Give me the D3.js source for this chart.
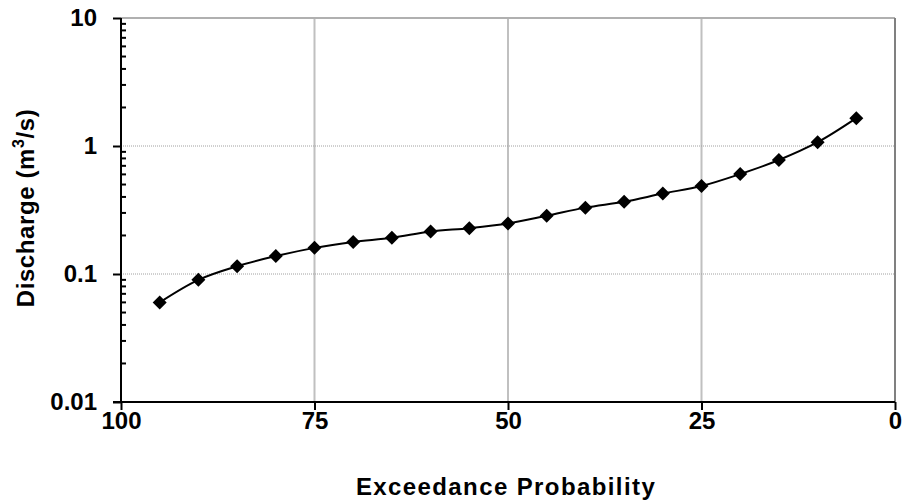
<!DOCTYPE html>
<html>
<head>
<meta charset="utf-8">
<script src="https://cdn.jsdelivr.net/npm/d3@7/dist/d3.min.js"></script>
<style>
  html, body { margin: 0; padding: 0; background: #fff; }
  svg { display: block; font-family: "Liberation Sans", Arial, sans-serif; }
</style>
</head>
<body>
<svg id="chart" width="904" height="502"></svg>
<script>
// Data
const exceedance = [95, 90, 85, 80, 75, 70, 65, 60, 55, 50, 45, 40, 35, 30, 25, 20, 15, 10, 5];
const discharge = [0.060, 0.090, 0.115, 0.138, 0.160, 0.178, 0.192, 0.215, 0.228, 0.248, 0.285, 0.330, 0.367, 0.425, 0.487, 0.604, 0.777, 1.07, 1.65];
const xTickValues = [100, 75, 50, 25, 0];
const yTickValues = [0.01, 0.1, 1, 10];
const yTickLabels = ["0.01", "0.1", "1", "10"];
const xTitle = "Exceedance Probability";

const svg = d3.select("#chart");
const L = 121, R = 895, T = 18, B = 402;

const x = d3.scaleLinear().domain([100, 0]).range([L, R]);
const y = d3.scaleLog().domain([0.01, 10]).range([B, T]);

// Gridlines vertical
svg.append("g").selectAll("line").data([75, 50, 25]).join("line")
  .attr("x1", d => x(d)).attr("x2", d => x(d)).attr("y1", T).attr("y2", B)
  .attr("stroke", "#c0c0c0").attr("stroke-width", 2);
// Gridlines horizontal (dotted)
svg.append("g").selectAll("line").data([0.1, 1]).join("line")
  .attr("x1", L).attr("x2", R).attr("y1", d => y(d)).attr("y2", d => y(d))
  .attr("stroke", "#a0a0a0").attr("stroke-width", 1).attr("stroke-dasharray", "1,1");
// Top border
svg.append("line").attr("x1", L).attr("x2", R).attr("y1", y(10)).attr("y2", y(10))
  .attr("stroke", "#b0b0b0").attr("stroke-width", 2);
// Right border
svg.append("line").attr("x1", x(0)).attr("x2", x(0)).attr("y1", T).attr("y2", B)
  .attr("stroke", "#808080").attr("stroke-width", 2);

// Minor y ticks (inside)
const minor = [];
for (let e = -2; e < 1; e++) for (let m = 2; m <= 9; m++) minor.push(m * Math.pow(10, e));
svg.append("g").selectAll("line").data(minor).join("line")
  .attr("x1", L).attr("x2", L + 5).attr("y1", d => y(d)).attr("y2", d => y(d))
  .attr("stroke", "#000").attr("stroke-width", 2);

// Y axis
const yAxis = d3.axisLeft(y).tickValues(yTickValues).tickFormat((d, i) => yTickLabels[i]).tickSize(8).tickPadding(16);
const gy = svg.append("g").attr("transform", `translate(${L},0)`).call(yAxis);
gy.select(".domain").attr("stroke-width", 2).attr("d", `M0,${T}V${B + 1}`);
gy.selectAll(".tick line").attr("stroke-width", 2);
gy.selectAll("text").attr("font-size", 24).attr("font-weight", "bold").attr("fill", "#000")
  .attr("font-family", "Liberation Sans, Arial, sans-serif");

// X axis
const xAxis = d3.axisBottom(x).tickValues(xTickValues).tickFormat(d3.format("d")).tickSize(8).tickPadding(2);
const gx = svg.append("g").attr("transform", `translate(0,${B})`).call(xAxis);
gx.select(".domain").attr("stroke-width", 2).attr("d", `M${L - 8},0H${R}`);
gx.selectAll(".tick line").attr("stroke-width", 2);
gx.selectAll("text").attr("font-size", 24).attr("font-weight", "bold").attr("fill", "#000")
  .attr("font-family", "Liberation Sans, Arial, sans-serif");

// Line
const pts = exceedance.map((e, i) => [e, discharge[i]]);
svg.append("path").datum(pts)
  .attr("fill", "none").attr("stroke", "#000").attr("stroke-width", 2)
  .attr("d", d3.line().x(d => x(d[0])).y(d => y(d[1])).curve(d3.curveCatmullRom.alpha(0.5)));

// Markers (diamonds)
svg.append("g").selectAll("path").data(pts).join("path")
  .attr("transform", d => `translate(${x(d[0])},${y(d[1])})`)
  .attr("d", "M0,-7L7,0L0,7L-7,0Z")
  .attr("fill", "#000");

// X title
svg.append("text").attr("x", 506).attr("y", 495).attr("text-anchor", "middle")
  .attr("font-size", 24).attr("font-weight", "bold").attr("letter-spacing", 1.4)
  .text(xTitle);

// Y title
const yt = svg.append("text").attr("transform", `translate(34,208) rotate(-90)`)
  .attr("text-anchor", "middle").attr("font-size", 24).attr("font-weight", "bold").attr("letter-spacing", 0.6);
yt.append("tspan").text("Discharge (m");
yt.append("tspan").attr("dy", -10).attr("font-size", 16).text("3");
yt.append("tspan").attr("dy", 10).text("/s)");
</script>
</body>
</html>
